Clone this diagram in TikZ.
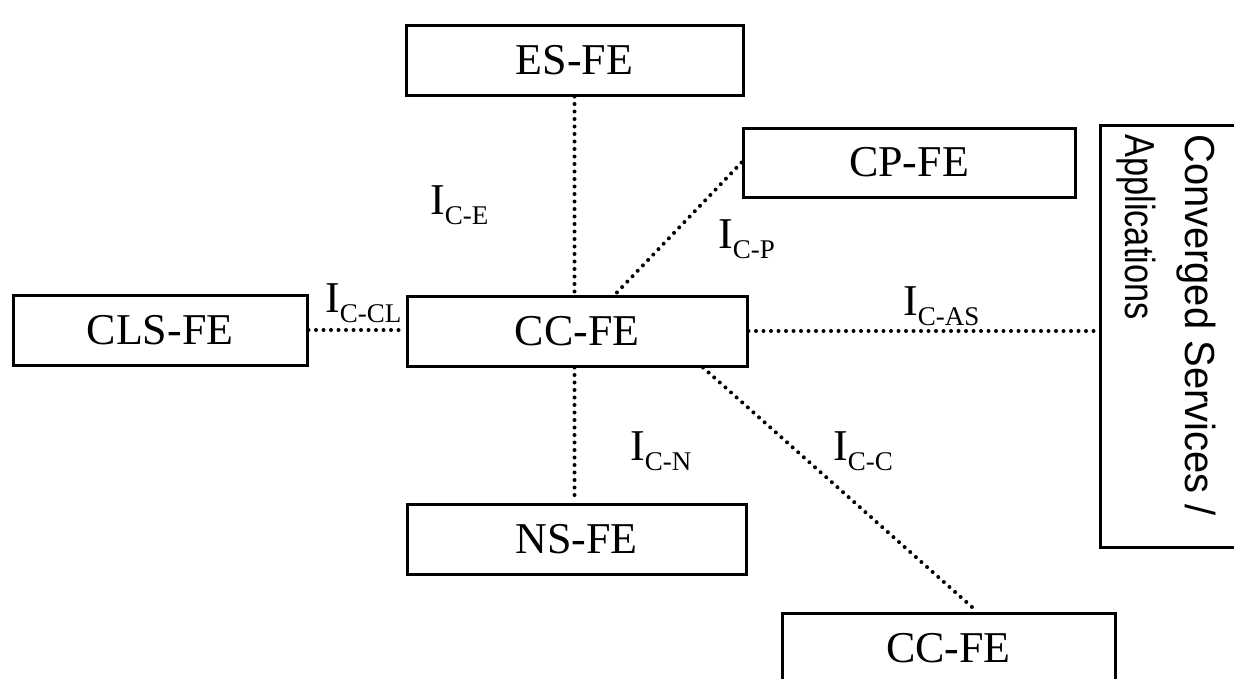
\documentclass[tikz,border=0pt]{standalone}
\usepackage{fontspec}
\setmainfont{Liberation Serif}
\newfontfamily\sansf{Liberation Sans}
\usetikzlibrary{calc}
\tikzset{
  febox/.style={draw, line width=3pt, inner sep=0pt, font=\fontsize{44}{44}\selectfont},
  dotline/.style={line width=4pt, dash pattern=on 0pt off 7.5pt, line cap=round},
  iflabel/.style={anchor=base west, inner sep=0pt}
}
\newcommand{\ifl}[1]{{\fontsize{44}{44}\selectfont I}\raisebox{-10pt}{\fontsize{27}{27}\selectfont #1}}
\begin{document}
\begin{tikzpicture}[x=1pt,y=-1pt]
\useasboundingbox (0,0) rectangle (1234,678);
\clip (0,0) rectangle (1234,678);
% boxes
\node[febox, minimum width=337pt, minimum height=70pt] (es) at (574.5,60) {ES-FE};
\node[febox, minimum width=332pt, minimum height=69pt] (cp) at (909,162.5) {CP-FE};
\node[febox, minimum width=294pt, minimum height=70pt] (cls) at (160,330) {CLS-FE};
\node[febox, minimum width=340pt, minimum height=70pt] (cc) at (577,331) {CC-FE};
\node[febox, minimum width=339pt, minimum height=70pt] (ns) at (576.5,539) {NS-FE};
\node[febox, minimum width=333pt, minimum height=70pt] (cc2) at (948.5,648) {CC-FE};
\node[febox, minimum width=140pt, minimum height=422pt] (conv) at (1170,336) {};
\node[rotate=-90, anchor=north west, align=left, inner sep=0pt,
      font=\sansf\fontsize{42}{60}\selectfont] (convtext) at (1216,134)
      {\scalebox{0.95}[1]{Converged Services /}\\\scalebox{0.82}[1]{Applications}};
% connectors
\draw[dotline] (es.south) -- (es.south |- cc.north);
\draw[dotline] (cp.west) -- ($(cc.north)+(38,0)$);
\draw[dotline] (cls.east) -- (cls.east -| cc.west);
\draw[dotline] (cc.east) -- (cc.east -| conv.west);
\draw[dotline] (es.south |- cc.south) -- (es.south |- ns.north);
\draw[dotline] ($(cc.south)+(126,0)$) -- ($(cc2.north)+(28.5,0)$);
% labels
\node[iflabel] (lce) at (430,214) {\ifl{C-E}};
\node[iflabel] (lcp) at (718,248) {\ifl{C-P}};
\node[iflabel] (lccl) at (325,312) {\ifl{C-CL}};
\node[iflabel] (lcas) at (903,315) {\ifl{C-AS}};
\node[iflabel] (lcn) at (630,460) {\ifl{C-N}};
\node[iflabel] (lcc) at (833,460) {\ifl{C-C}};
\end{tikzpicture}
\end{document}
